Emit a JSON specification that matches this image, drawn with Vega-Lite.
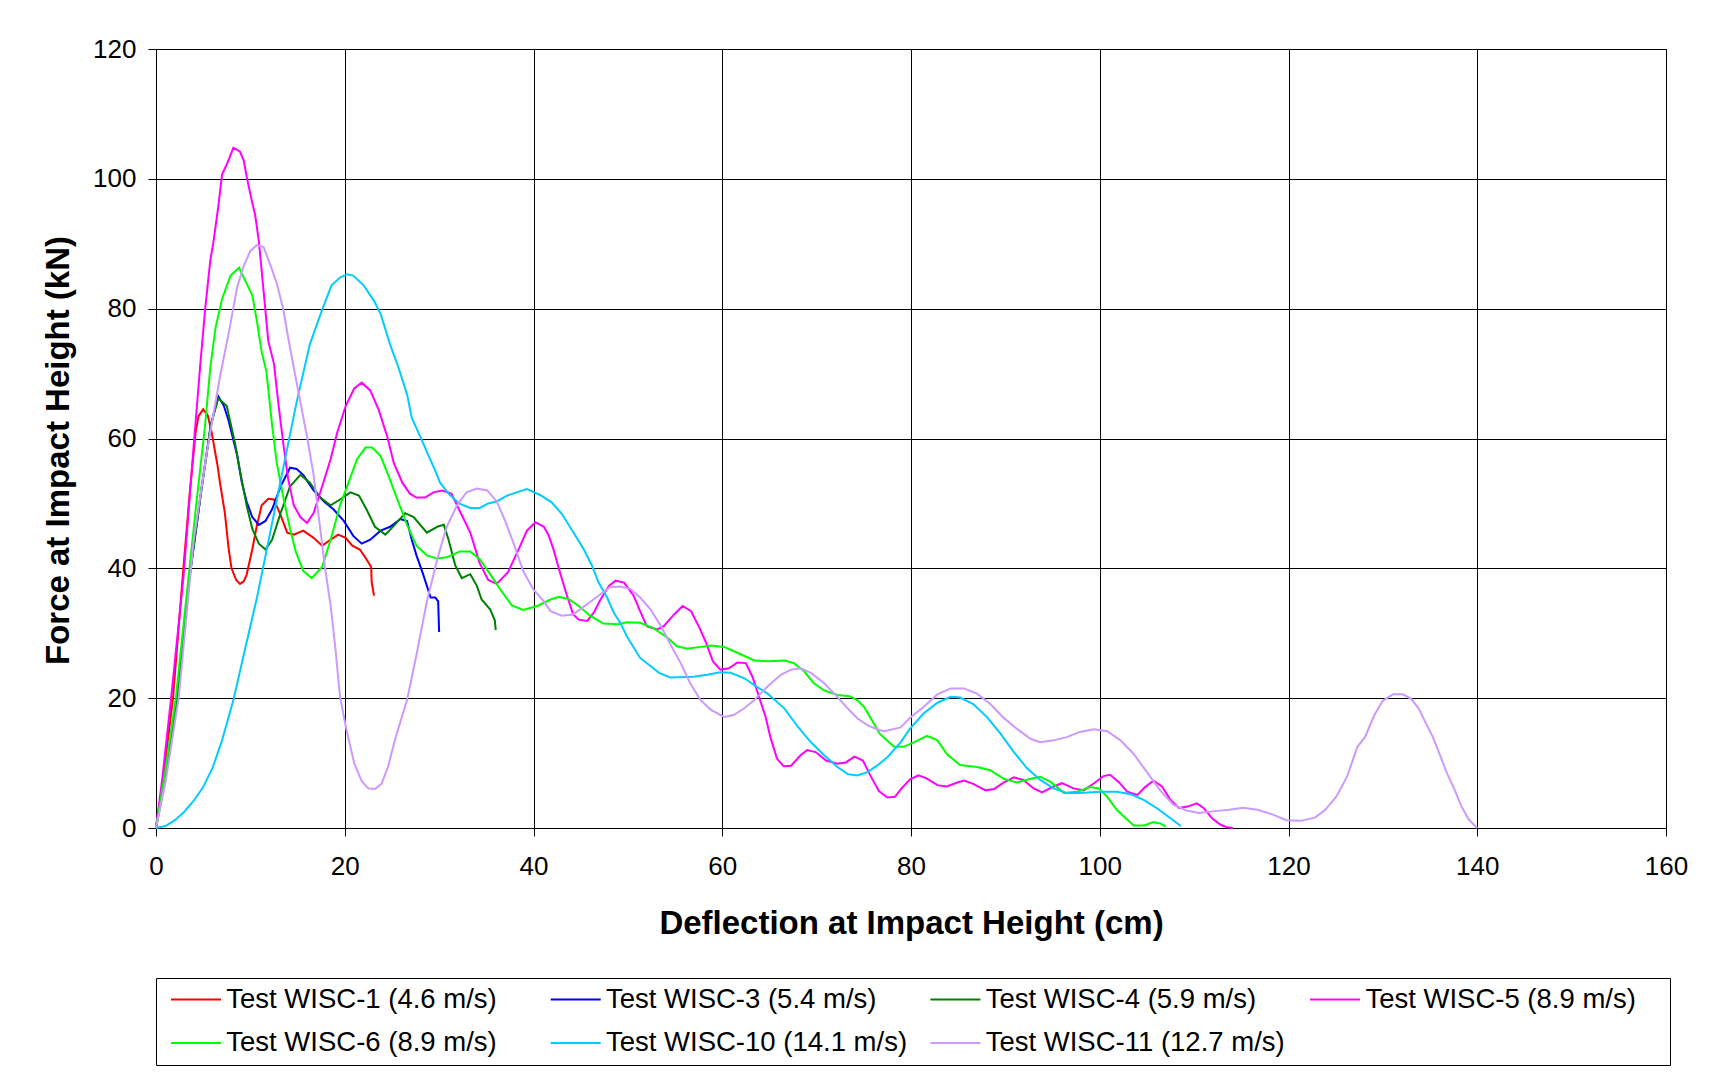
{
"$schema": "https://vega.github.io/schema/vega-lite/v6.json",
"width": 1510, "height": 779,
"autosize": {"type": "none"},
"padding": {"left": 156, "top": 49, "right": 43, "bottom": 245},
"background": "white",
"config": {"font": "Liberation Sans", "view": {"stroke": "#808080", "strokeWidth": 1}},
"datasets": {
"curves": [
{"s":"Test WISC-1 (4.6 m/s)","x":0,"y":0},{"s":"Test WISC-1 (4.6 m/s)","x":0.8,"y":8},{"s":"Test WISC-1 (4.6 m/s)","x":1.8,"y":20},{"s":"Test WISC-1 (4.6 m/s)","x":2.9,"y":40},{"s":"Test WISC-1 (4.6 m/s)","x":3.6,"y":52},{"s":"Test WISC-1 (4.6 m/s)","x":4.2,"y":61},{"s":"Test WISC-1 (4.6 m/s)","x":4.5,"y":63.4},{"s":"Test WISC-1 (4.6 m/s)","x":5.0,"y":64.5},{"s":"Test WISC-1 (4.6 m/s)","x":5.5,"y":63.5},{"s":"Test WISC-1 (4.6 m/s)","x":5.9,"y":60.9},{"s":"Test WISC-1 (4.6 m/s)","x":6.5,"y":56},{"s":"Test WISC-1 (4.6 m/s)","x":6.8,"y":53},{"s":"Test WISC-1 (4.6 m/s)","x":7.3,"y":48.5},{"s":"Test WISC-1 (4.6 m/s)","x":7.7,"y":43},{"s":"Test WISC-1 (4.6 m/s)","x":8.0,"y":40},{"s":"Test WISC-1 (4.6 m/s)","x":8.5,"y":38.2},{"s":"Test WISC-1 (4.6 m/s)","x":8.9,"y":37.6},{"s":"Test WISC-1 (4.6 m/s)","x":9.3,"y":38},{"s":"Test WISC-1 (4.6 m/s)","x":9.6,"y":39},{"s":"Test WISC-1 (4.6 m/s)","x":10.2,"y":42.9},{"s":"Test WISC-1 (4.6 m/s)","x":10.7,"y":46.7},{"s":"Test WISC-1 (4.6 m/s)","x":11.2,"y":49.7},{"s":"Test WISC-1 (4.6 m/s)","x":11.9,"y":50.7},{"s":"Test WISC-1 (4.6 m/s)","x":12.5,"y":50.6},{"s":"Test WISC-1 (4.6 m/s)","x":13.2,"y":48.2},{"s":"Test WISC-1 (4.6 m/s)","x":13.9,"y":45.5},{"s":"Test WISC-1 (4.6 m/s)","x":14.6,"y":45.2},{"s":"Test WISC-1 (4.6 m/s)","x":15.6,"y":45.8},{"s":"Test WISC-1 (4.6 m/s)","x":16.7,"y":44.7},{"s":"Test WISC-1 (4.6 m/s)","x":17.6,"y":43.5},{"s":"Test WISC-1 (4.6 m/s)","x":18.5,"y":44.4},{"s":"Test WISC-1 (4.6 m/s)","x":19.3,"y":45.2},{"s":"Test WISC-1 (4.6 m/s)","x":20.1,"y":44.7},{"s":"Test WISC-1 (4.6 m/s)","x":20.8,"y":43.5},{"s":"Test WISC-1 (4.6 m/s)","x":21.6,"y":42.9},{"s":"Test WISC-1 (4.6 m/s)","x":22.3,"y":41.4},{"s":"Test WISC-1 (4.6 m/s)","x":22.8,"y":40.2},{"s":"Test WISC-1 (4.6 m/s)","x":22.85,"y":37.9},{"s":"Test WISC-1 (4.6 m/s)","x":23.1,"y":35.8},

{"s":"Test WISC-3 (5.4 m/s)","x":0,"y":0},{"s":"Test WISC-3 (5.4 m/s)","x":1,"y":8},{"s":"Test WISC-3 (5.4 m/s)","x":2.3,"y":20},{"s":"Test WISC-3 (5.4 m/s)","x":3.5,"y":38},{"s":"Test WISC-3 (5.4 m/s)","x":4.8,"y":52},{"s":"Test WISC-3 (5.4 m/s)","x":5.8,"y":62},{"s":"Test WISC-3 (5.4 m/s)","x":6.6,"y":66.5},{"s":"Test WISC-3 (5.4 m/s)","x":7.2,"y":65},{"s":"Test WISC-3 (5.4 m/s)","x":7.7,"y":62.7},{"s":"Test WISC-3 (5.4 m/s)","x":8.6,"y":57.4},{"s":"Test WISC-3 (5.4 m/s)","x":9.1,"y":53.2},{"s":"Test WISC-3 (5.4 m/s)","x":9.6,"y":50.3},{"s":"Test WISC-3 (5.4 m/s)","x":10.2,"y":47.9},{"s":"Test WISC-3 (5.4 m/s)","x":10.9,"y":46.7},{"s":"Test WISC-3 (5.4 m/s)","x":11.6,"y":47.3},{"s":"Test WISC-3 (5.4 m/s)","x":12.3,"y":49.1},{"s":"Test WISC-3 (5.4 m/s)","x":13.2,"y":52.6},{"s":"Test WISC-3 (5.4 m/s)","x":14.2,"y":55.5},{"s":"Test WISC-3 (5.4 m/s)","x":14.9,"y":55.3},{"s":"Test WISC-3 (5.4 m/s)","x":15.6,"y":54.4},{"s":"Test WISC-3 (5.4 m/s)","x":16.7,"y":52.0},{"s":"Test WISC-3 (5.4 m/s)","x":17.8,"y":50.3},{"s":"Test WISC-3 (5.4 m/s)","x":18.8,"y":49.1},{"s":"Test WISC-3 (5.4 m/s)","x":19.9,"y":47.3},{"s":"Test WISC-3 (5.4 m/s)","x":20.9,"y":45.0},{"s":"Test WISC-3 (5.4 m/s)","x":21.8,"y":43.8},{"s":"Test WISC-3 (5.4 m/s)","x":22.7,"y":44.4},{"s":"Test WISC-3 (5.4 m/s)","x":23.8,"y":45.8},{"s":"Test WISC-3 (5.4 m/s)","x":24.8,"y":46.4},{"s":"Test WISC-3 (5.4 m/s)","x":25.9,"y":47.6},{"s":"Test WISC-3 (5.4 m/s)","x":26.6,"y":47.3},{"s":"Test WISC-3 (5.4 m/s)","x":27.1,"y":44.4},{"s":"Test WISC-3 (5.4 m/s)","x":27.6,"y":42.0},{"s":"Test WISC-3 (5.4 m/s)","x":28.3,"y":39.1},{"s":"Test WISC-3 (5.4 m/s)","x":29.1,"y":35.5},{"s":"Test WISC-3 (5.4 m/s)","x":29.6,"y":35.5},{"s":"Test WISC-3 (5.4 m/s)","x":29.9,"y":34.9},{"s":"Test WISC-3 (5.4 m/s)","x":30.0,"y":30.2},

{"s":"Test WISC-4 (5.9 m/s)","x":0,"y":0},{"s":"Test WISC-4 (5.9 m/s)","x":1,"y":8},{"s":"Test WISC-4 (5.9 m/s)","x":2.3,"y":20},{"s":"Test WISC-4 (5.9 m/s)","x":3.5,"y":38},{"s":"Test WISC-4 (5.9 m/s)","x":4.8,"y":52},{"s":"Test WISC-4 (5.9 m/s)","x":5.8,"y":62},{"s":"Test WISC-4 (5.9 m/s)","x":6.6,"y":66.2},{"s":"Test WISC-4 (5.9 m/s)","x":7.5,"y":65},{"s":"Test WISC-4 (5.9 m/s)","x":8.4,"y":59.1},{"s":"Test WISC-4 (5.9 m/s)","x":8.9,"y":55},{"s":"Test WISC-4 (5.9 m/s)","x":9.6,"y":49.7},{"s":"Test WISC-4 (5.9 m/s)","x":10.2,"y":46.1},{"s":"Test WISC-4 (5.9 m/s)","x":10.9,"y":43.8},{"s":"Test WISC-4 (5.9 m/s)","x":11.6,"y":42.9},{"s":"Test WISC-4 (5.9 m/s)","x":12.3,"y":44.4},{"s":"Test WISC-4 (5.9 m/s)","x":13.2,"y":48.5},{"s":"Test WISC-4 (5.9 m/s)","x":14.2,"y":52.6},{"s":"Test WISC-4 (5.9 m/s)","x":15.3,"y":54.4},{"s":"Test WISC-4 (5.9 m/s)","x":16.3,"y":53.2},{"s":"Test WISC-4 (5.9 m/s)","x":17.4,"y":50.9},{"s":"Test WISC-4 (5.9 m/s)","x":18.5,"y":49.7},{"s":"Test WISC-4 (5.9 m/s)","x":19.5,"y":50.6},{"s":"Test WISC-4 (5.9 m/s)","x":20.6,"y":51.7},{"s":"Test WISC-4 (5.9 m/s)","x":21.5,"y":51.2},{"s":"Test WISC-4 (5.9 m/s)","x":22.3,"y":49.1},{"s":"Test WISC-4 (5.9 m/s)","x":23.2,"y":46.4},{"s":"Test WISC-4 (5.9 m/s)","x":24.3,"y":45.2},{"s":"Test WISC-4 (5.9 m/s)","x":25.3,"y":46.7},{"s":"Test WISC-4 (5.9 m/s)","x":26.4,"y":48.5},{"s":"Test WISC-4 (5.9 m/s)","x":27.3,"y":47.9},{"s":"Test WISC-4 (5.9 m/s)","x":28.7,"y":45.5},{"s":"Test WISC-4 (5.9 m/s)","x":29.8,"y":46.4},{"s":"Test WISC-4 (5.9 m/s)","x":30.5,"y":46.7},{"s":"Test WISC-4 (5.9 m/s)","x":31.0,"y":44.4},{"s":"Test WISC-4 (5.9 m/s)","x":31.7,"y":40.5},{"s":"Test WISC-4 (5.9 m/s)","x":32.4,"y":38.5},{"s":"Test WISC-4 (5.9 m/s)","x":33.3,"y":39.1},{"s":"Test WISC-4 (5.9 m/s)","x":34.0,"y":37.3},{"s":"Test WISC-4 (5.9 m/s)","x":34.5,"y":35.2},{"s":"Test WISC-4 (5.9 m/s)","x":35.4,"y":33.7},{"s":"Test WISC-4 (5.9 m/s)","x":35.9,"y":32.0},{"s":"Test WISC-4 (5.9 m/s)","x":36.0,"y":30.5},

{"s":"Test WISC-5 (8.9 m/s)","x":0,"y":0},{"s":"Test WISC-5 (8.9 m/s)","x":0.7,"y":8},{"s":"Test WISC-5 (8.9 m/s)","x":1.6,"y":20},{"s":"Test WISC-5 (8.9 m/s)","x":2.9,"y":38.5},{"s":"Test WISC-5 (8.9 m/s)","x":4.0,"y":59},{"s":"Test WISC-5 (8.9 m/s)","x":4.7,"y":71.5},{"s":"Test WISC-5 (8.9 m/s)","x":5.2,"y":79.8},{"s":"Test WISC-5 (8.9 m/s)","x":5.75,"y":87.4},{"s":"Test WISC-5 (8.9 m/s)","x":6.1,"y":90.4},{"s":"Test WISC-5 (8.9 m/s)","x":6.6,"y":95.7},{"s":"Test WISC-5 (8.9 m/s)","x":7.0,"y":100.7},{"s":"Test WISC-5 (8.9 m/s)","x":7.5,"y":102.2},{"s":"Test WISC-5 (8.9 m/s)","x":8.2,"y":104.8},{"s":"Test WISC-5 (8.9 m/s)","x":8.9,"y":104.2},{"s":"Test WISC-5 (8.9 m/s)","x":9.3,"y":102.8},{"s":"Test WISC-5 (8.9 m/s)","x":9.6,"y":100.4},{"s":"Test WISC-5 (8.9 m/s)","x":10.2,"y":96.3},{"s":"Test WISC-5 (8.9 m/s)","x":10.5,"y":94.5},{"s":"Test WISC-5 (8.9 m/s)","x":10.9,"y":90.4},{"s":"Test WISC-5 (8.9 m/s)","x":11.4,"y":82.7},{"s":"Test WISC-5 (8.9 m/s)","x":11.9,"y":75},{"s":"Test WISC-5 (8.9 m/s)","x":12.5,"y":71.5},{"s":"Test WISC-5 (8.9 m/s)","x":13.0,"y":65},{"s":"Test WISC-5 (8.9 m/s)","x":13.5,"y":59.1},{"s":"Test WISC-5 (8.9 m/s)","x":14.0,"y":53.8},{"s":"Test WISC-5 (8.9 m/s)","x":14.6,"y":49.7},{"s":"Test WISC-5 (8.9 m/s)","x":15.3,"y":47.9},{"s":"Test WISC-5 (8.9 m/s)","x":16.0,"y":47.0},{"s":"Test WISC-5 (8.9 m/s)","x":16.7,"y":48.5},{"s":"Test WISC-5 (8.9 m/s)","x":17.6,"y":52.6},{"s":"Test WISC-5 (8.9 m/s)","x":18.5,"y":56.8},{"s":"Test WISC-5 (8.9 m/s)","x":19.2,"y":60.9},{"s":"Test WISC-5 (8.9 m/s)","x":20.1,"y":65},{"s":"Test WISC-5 (8.9 m/s)","x":21.0,"y":67.7},{"s":"Test WISC-5 (8.9 m/s)","x":21.8,"y":68.6},{"s":"Test WISC-5 (8.9 m/s)","x":22.7,"y":67.4},{"s":"Test WISC-5 (8.9 m/s)","x":23.6,"y":64.4},{"s":"Test WISC-5 (8.9 m/s)","x":24.5,"y":60.3},{"s":"Test WISC-5 (8.9 m/s)","x":25.2,"y":56.2},{"s":"Test WISC-5 (8.9 m/s)","x":26.1,"y":53.2},{"s":"Test WISC-5 (8.9 m/s)","x":26.9,"y":51.5},{"s":"Test WISC-5 (8.9 m/s)","x":27.6,"y":50.9},{"s":"Test WISC-5 (8.9 m/s)","x":28.5,"y":50.9},{"s":"Test WISC-5 (8.9 m/s)","x":29.4,"y":51.7},{"s":"Test WISC-5 (8.9 m/s)","x":30.3,"y":52.0},{"s":"Test WISC-5 (8.9 m/s)","x":31.3,"y":51.5},{"s":"Test WISC-5 (8.9 m/s)","x":32.2,"y":48.8},{"s":"Test WISC-5 (8.9 m/s)","x":33.3,"y":45.5},{"s":"Test WISC-5 (8.9 m/s)","x":34.3,"y":40.8},{"s":"Test WISC-5 (8.9 m/s)","x":35.2,"y":38.2},{"s":"Test WISC-5 (8.9 m/s)","x":36.1,"y":37.6},{"s":"Test WISC-5 (8.9 m/s)","x":37.3,"y":39.4},{"s":"Test WISC-5 (8.9 m/s)","x":38.6,"y":43.5},{"s":"Test WISC-5 (8.9 m/s)","x":39.3,"y":45.8},{"s":"Test WISC-5 (8.9 m/s)","x":40.2,"y":47.1},{"s":"Test WISC-5 (8.9 m/s)","x":41.1,"y":46.4},{"s":"Test WISC-5 (8.9 m/s)","x":41.6,"y":45.1},{"s":"Test WISC-5 (8.9 m/s)","x":42.1,"y":43.0},{"s":"Test WISC-5 (8.9 m/s)","x":42.8,"y":39.4},{"s":"Test WISC-5 (8.9 m/s)","x":43.5,"y":36.0},{"s":"Test WISC-5 (8.9 m/s)","x":44.2,"y":32.9},{"s":"Test WISC-5 (8.9 m/s)","x":44.8,"y":32.1},{"s":"Test WISC-5 (8.9 m/s)","x":45.7,"y":31.9},{"s":"Test WISC-5 (8.9 m/s)","x":46.4,"y":33.2},{"s":"Test WISC-5 (8.9 m/s)","x":47.1,"y":35.2},{"s":"Test WISC-5 (8.9 m/s)","x":48.0,"y":37.3},{"s":"Test WISC-5 (8.9 m/s)","x":48.7,"y":38.1},{"s":"Test WISC-5 (8.9 m/s)","x":49.6,"y":37.8},{"s":"Test WISC-5 (8.9 m/s)","x":50.6,"y":35.8},{"s":"Test WISC-5 (8.9 m/s)","x":51.3,"y":33.4},{"s":"Test WISC-5 (8.9 m/s)","x":52.0,"y":31.1},{"s":"Test WISC-5 (8.9 m/s)","x":53.1,"y":30.6},{"s":"Test WISC-5 (8.9 m/s)","x":53.8,"y":31.1},{"s":"Test WISC-5 (8.9 m/s)","x":54.9,"y":32.9},{"s":"Test WISC-5 (8.9 m/s)","x":55.8,"y":34.2},{"s":"Test WISC-5 (8.9 m/s)","x":56.7,"y":33.4},{"s":"Test WISC-5 (8.9 m/s)","x":57.6,"y":30.8},{"s":"Test WISC-5 (8.9 m/s)","x":58.3,"y":28.5},{"s":"Test WISC-5 (8.9 m/s)","x":59.0,"y":25.7},{"s":"Test WISC-5 (8.9 m/s)","x":59.8,"y":24.4},{"s":"Test WISC-5 (8.9 m/s)","x":60.7,"y":24.6},{"s":"Test WISC-5 (8.9 m/s)","x":61.6,"y":25.5},{"s":"Test WISC-5 (8.9 m/s)","x":62.5,"y":25.4},{"s":"Test WISC-5 (8.9 m/s)","x":63.2,"y":23.3},{"s":"Test WISC-5 (8.9 m/s)","x":63.9,"y":20.2},{"s":"Test WISC-5 (8.9 m/s)","x":64.6,"y":17.1},{"s":"Test WISC-5 (8.9 m/s)","x":65.1,"y":14.0},{"s":"Test WISC-5 (8.9 m/s)","x":65.8,"y":10.7},{"s":"Test WISC-5 (8.9 m/s)","x":66.5,"y":9.5},{"s":"Test WISC-5 (8.9 m/s)","x":67.3,"y":9.6},{"s":"Test WISC-5 (8.9 m/s)","x":68.3,"y":11.2},{"s":"Test WISC-5 (8.9 m/s)","x":69.0,"y":12.0},{"s":"Test WISC-5 (8.9 m/s)","x":69.9,"y":11.7},{"s":"Test WISC-5 (8.9 m/s)","x":71.0,"y":10.4},{"s":"Test WISC-5 (8.9 m/s)","x":72.2,"y":9.9},{"s":"Test WISC-5 (8.9 m/s)","x":73.1,"y":10.1},{"s":"Test WISC-5 (8.9 m/s)","x":74.0,"y":11.0},{"s":"Test WISC-5 (8.9 m/s)","x":74.9,"y":10.4},{"s":"Test WISC-5 (8.9 m/s)","x":75.8,"y":7.8},{"s":"Test WISC-5 (8.9 m/s)","x":76.6,"y":5.7},{"s":"Test WISC-5 (8.9 m/s)","x":77.5,"y":4.7},{"s":"Test WISC-5 (8.9 m/s)","x":78.3,"y":4.8},{"s":"Test WISC-5 (8.9 m/s)","x":79.0,"y":6.1},{"s":"Test WISC-5 (8.9 m/s)","x":79.9,"y":7.5},{"s":"Test WISC-5 (8.9 m/s)","x":80.8,"y":8.1},{"s":"Test WISC-5 (8.9 m/s)","x":81.7,"y":7.6},{"s":"Test WISC-5 (8.9 m/s)","x":82.8,"y":6.6},{"s":"Test WISC-5 (8.9 m/s)","x":83.8,"y":6.4},{"s":"Test WISC-5 (8.9 m/s)","x":84.9,"y":7.0},{"s":"Test WISC-5 (8.9 m/s)","x":85.6,"y":7.3},{"s":"Test WISC-5 (8.9 m/s)","x":86.6,"y":6.8},{"s":"Test WISC-5 (8.9 m/s)","x":87.9,"y":5.8},{"s":"Test WISC-5 (8.9 m/s)","x":88.8,"y":6.0},{"s":"Test WISC-5 (8.9 m/s)","x":89.8,"y":7.0},{"s":"Test WISC-5 (8.9 m/s)","x":90.9,"y":7.8},{"s":"Test WISC-5 (8.9 m/s)","x":91.9,"y":7.4},{"s":"Test WISC-5 (8.9 m/s)","x":93.0,"y":6.1},{"s":"Test WISC-5 (8.9 m/s)","x":93.9,"y":5.5},{"s":"Test WISC-5 (8.9 m/s)","x":95.1,"y":6.4},{"s":"Test WISC-5 (8.9 m/s)","x":96.0,"y":6.9},{"s":"Test WISC-5 (8.9 m/s)","x":97.2,"y":6.1},{"s":"Test WISC-5 (8.9 m/s)","x":98.3,"y":5.8},{"s":"Test WISC-5 (8.9 m/s)","x":99.4,"y":6.9},{"s":"Test WISC-5 (8.9 m/s)","x":100.4,"y":8.0},{"s":"Test WISC-5 (8.9 m/s)","x":101.1,"y":8.2},{"s":"Test WISC-5 (8.9 m/s)","x":102.0,"y":7.1},{"s":"Test WISC-5 (8.9 m/s)","x":102.9,"y":5.6},{"s":"Test WISC-5 (8.9 m/s)","x":104.0,"y":5.1},{"s":"Test WISC-5 (8.9 m/s)","x":104.8,"y":6.3},{"s":"Test WISC-5 (8.9 m/s)","x":105.7,"y":7.3},{"s":"Test WISC-5 (8.9 m/s)","x":106.6,"y":6.4},{"s":"Test WISC-5 (8.9 m/s)","x":107.5,"y":4.3},{"s":"Test WISC-5 (8.9 m/s)","x":108.4,"y":3.1},{"s":"Test WISC-5 (8.9 m/s)","x":109.3,"y":3.3},{"s":"Test WISC-5 (8.9 m/s)","x":110.3,"y":3.8},{"s":"Test WISC-5 (8.9 m/s)","x":111.0,"y":3.1},{"s":"Test WISC-5 (8.9 m/s)","x":111.9,"y":1.5},{"s":"Test WISC-5 (8.9 m/s)","x":112.8,"y":0.5},{"s":"Test WISC-5 (8.9 m/s)","x":113.5,"y":0.1},{"s":"Test WISC-5 (8.9 m/s)","x":114.1,"y":0},

{"s":"Test WISC-6 (8.9 m/s)","x":0,"y":0},{"s":"Test WISC-6 (8.9 m/s)","x":0.9,"y":8},{"s":"Test WISC-6 (8.9 m/s)","x":2.1,"y":20},{"s":"Test WISC-6 (8.9 m/s)","x":3.4,"y":38},{"s":"Test WISC-6 (8.9 m/s)","x":4.3,"y":50.3},{"s":"Test WISC-6 (8.9 m/s)","x":5.2,"y":62},{"s":"Test WISC-6 (8.9 m/s)","x":5.75,"y":70.9},{"s":"Test WISC-6 (8.9 m/s)","x":6.3,"y":77},{"s":"Test WISC-6 (8.9 m/s)","x":7.0,"y":81.5},{"s":"Test WISC-6 (8.9 m/s)","x":7.9,"y":85.1},{"s":"Test WISC-6 (8.9 m/s)","x":8.8,"y":86.3},{"s":"Test WISC-6 (8.9 m/s)","x":9.6,"y":83.9},{"s":"Test WISC-6 (8.9 m/s)","x":10.2,"y":82.1},{"s":"Test WISC-6 (8.9 m/s)","x":10.7,"y":78},{"s":"Test WISC-6 (8.9 m/s)","x":11.2,"y":73.3},{"s":"Test WISC-6 (8.9 m/s)","x":11.7,"y":70.3},{"s":"Test WISC-6 (8.9 m/s)","x":12.3,"y":62.1},{"s":"Test WISC-6 (8.9 m/s)","x":12.8,"y":56.2},{"s":"Test WISC-6 (8.9 m/s)","x":13.5,"y":50.9},{"s":"Test WISC-6 (8.9 m/s)","x":14.2,"y":46.1},{"s":"Test WISC-6 (8.9 m/s)","x":14.8,"y":42.6},{"s":"Test WISC-6 (8.9 m/s)","x":15.6,"y":39.6},{"s":"Test WISC-6 (8.9 m/s)","x":16.5,"y":38.5},{"s":"Test WISC-6 (8.9 m/s)","x":17.6,"y":40.2},{"s":"Test WISC-6 (8.9 m/s)","x":18.5,"y":44.4},{"s":"Test WISC-6 (8.9 m/s)","x":19.5,"y":49.7},{"s":"Test WISC-6 (8.9 m/s)","x":20.4,"y":53.2},{"s":"Test WISC-6 (8.9 m/s)","x":21.3,"y":56.8},{"s":"Test WISC-6 (8.9 m/s)","x":22.2,"y":58.6},{"s":"Test WISC-6 (8.9 m/s)","x":22.9,"y":58.6},{"s":"Test WISC-6 (8.9 m/s)","x":23.8,"y":57.3},{"s":"Test WISC-6 (8.9 m/s)","x":24.6,"y":54.4},{"s":"Test WISC-6 (8.9 m/s)","x":25.5,"y":50.9},{"s":"Test WISC-6 (8.9 m/s)","x":26.6,"y":46.7},{"s":"Test WISC-6 (8.9 m/s)","x":27.6,"y":43.5},{"s":"Test WISC-6 (8.9 m/s)","x":28.7,"y":42.0},{"s":"Test WISC-6 (8.9 m/s)","x":29.8,"y":41.5},{"s":"Test WISC-6 (8.9 m/s)","x":30.8,"y":41.7},{"s":"Test WISC-6 (8.9 m/s)","x":32.2,"y":42.6},{"s":"Test WISC-6 (8.9 m/s)","x":33.3,"y":42.6},{"s":"Test WISC-6 (8.9 m/s)","x":34.3,"y":41.4},{"s":"Test WISC-6 (8.9 m/s)","x":35.4,"y":39.1},{"s":"Test WISC-6 (8.9 m/s)","x":36.5,"y":36.7},{"s":"Test WISC-6 (8.9 m/s)","x":37.7,"y":34.3},{"s":"Test WISC-6 (8.9 m/s)","x":38.9,"y":33.6},{"s":"Test WISC-6 (8.9 m/s)","x":40.4,"y":34.2},{"s":"Test WISC-6 (8.9 m/s)","x":41.8,"y":35.2},{"s":"Test WISC-6 (8.9 m/s)","x":42.7,"y":35.6},{"s":"Test WISC-6 (8.9 m/s)","x":43.7,"y":35.3},{"s":"Test WISC-6 (8.9 m/s)","x":44.8,"y":34.2},{"s":"Test WISC-6 (8.9 m/s)","x":46.0,"y":32.7},{"s":"Test WISC-6 (8.9 m/s)","x":47.4,"y":31.5},{"s":"Test WISC-6 (8.9 m/s)","x":49.0,"y":31.4},{"s":"Test WISC-6 (8.9 m/s)","x":49.9,"y":31.7},{"s":"Test WISC-6 (8.9 m/s)","x":51.3,"y":31.6},{"s":"Test WISC-6 (8.9 m/s)","x":52.7,"y":30.8},{"s":"Test WISC-6 (8.9 m/s)","x":54.2,"y":29.3},{"s":"Test WISC-6 (8.9 m/s)","x":55.2,"y":28.0},{"s":"Test WISC-6 (8.9 m/s)","x":56.3,"y":27.6},{"s":"Test WISC-6 (8.9 m/s)","x":57.7,"y":27.9},{"s":"Test WISC-6 (8.9 m/s)","x":58.8,"y":28.1},{"s":"Test WISC-6 (8.9 m/s)","x":60.2,"y":27.9},{"s":"Test WISC-6 (8.9 m/s)","x":61.6,"y":27.0},{"s":"Test WISC-6 (8.9 m/s)","x":63.4,"y":25.8},{"s":"Test WISC-6 (8.9 m/s)","x":64.8,"y":25.7},{"s":"Test WISC-6 (8.9 m/s)","x":66.6,"y":25.8},{"s":"Test WISC-6 (8.9 m/s)","x":67.6,"y":25.4},{"s":"Test WISC-6 (8.9 m/s)","x":68.7,"y":24.1},{"s":"Test WISC-6 (8.9 m/s)","x":69.7,"y":22.3},{"s":"Test WISC-6 (8.9 m/s)","x":70.8,"y":21.2},{"s":"Test WISC-6 (8.9 m/s)","x":72.2,"y":20.5},{"s":"Test WISC-6 (8.9 m/s)","x":73.5,"y":20.3},{"s":"Test WISC-6 (8.9 m/s)","x":74.3,"y":19.7},{"s":"Test WISC-6 (8.9 m/s)","x":75.0,"y":18.7},{"s":"Test WISC-6 (8.9 m/s)","x":75.7,"y":17.0},{"s":"Test WISC-6 (8.9 m/s)","x":76.7,"y":14.5},{"s":"Test WISC-6 (8.9 m/s)","x":78.2,"y":12.5},{"s":"Test WISC-6 (8.9 m/s)","x":79.2,"y":12.5},{"s":"Test WISC-6 (8.9 m/s)","x":80.3,"y":13.2},{"s":"Test WISC-6 (8.9 m/s)","x":81.7,"y":14.2},{"s":"Test WISC-6 (8.9 m/s)","x":82.8,"y":13.5},{"s":"Test WISC-6 (8.9 m/s)","x":83.8,"y":11.4},{"s":"Test WISC-6 (8.9 m/s)","x":85.2,"y":9.7},{"s":"Test WISC-6 (8.9 m/s)","x":87.0,"y":9.4},{"s":"Test WISC-6 (8.9 m/s)","x":88.4,"y":8.9},{"s":"Test WISC-6 (8.9 m/s)","x":89.8,"y":7.6},{"s":"Test WISC-6 (8.9 m/s)","x":91.2,"y":7.0},{"s":"Test WISC-6 (8.9 m/s)","x":92.7,"y":7.6},{"s":"Test WISC-6 (8.9 m/s)","x":93.7,"y":7.9},{"s":"Test WISC-6 (8.9 m/s)","x":94.8,"y":7.1},{"s":"Test WISC-6 (8.9 m/s)","x":96.2,"y":5.4},{"s":"Test WISC-6 (8.9 m/s)","x":97.6,"y":5.6},{"s":"Test WISC-6 (8.9 m/s)","x":99.0,"y":6.3},{"s":"Test WISC-6 (8.9 m/s)","x":99.9,"y":6.1},{"s":"Test WISC-6 (8.9 m/s)","x":100.8,"y":4.8},{"s":"Test WISC-6 (8.9 m/s)","x":101.8,"y":2.8},{"s":"Test WISC-6 (8.9 m/s)","x":102.9,"y":1.3},{"s":"Test WISC-6 (8.9 m/s)","x":103.6,"y":0.4},{"s":"Test WISC-6 (8.9 m/s)","x":104.7,"y":0.4},{"s":"Test WISC-6 (8.9 m/s)","x":105.7,"y":0.9},{"s":"Test WISC-6 (8.9 m/s)","x":106.4,"y":0.7},{"s":"Test WISC-6 (8.9 m/s)","x":107.0,"y":0.2},

{"s":"Test WISC-10 (14.1 m/s)","x":0,"y":0},{"s":"Test WISC-10 (14.1 m/s)","x":1,"y":0.3},{"s":"Test WISC-10 (14.1 m/s)","x":2,"y":1.2},{"s":"Test WISC-10 (14.1 m/s)","x":3,"y":2.5},{"s":"Test WISC-10 (14.1 m/s)","x":4,"y":4.2},{"s":"Test WISC-10 (14.1 m/s)","x":5,"y":6.3},{"s":"Test WISC-10 (14.1 m/s)","x":6,"y":9.3},{"s":"Test WISC-10 (14.1 m/s)","x":7,"y":13.5},{"s":"Test WISC-10 (14.1 m/s)","x":8.2,"y":19.7},{"s":"Test WISC-10 (14.1 m/s)","x":9.3,"y":26.7},{"s":"Test WISC-10 (14.1 m/s)","x":10.7,"y":35.5},{"s":"Test WISC-10 (14.1 m/s)","x":12.1,"y":45.5},{"s":"Test WISC-10 (14.1 m/s)","x":13.5,"y":55.6},{"s":"Test WISC-10 (14.1 m/s)","x":14.9,"y":65.6},{"s":"Test WISC-10 (14.1 m/s)","x":16.3,"y":74.5},{"s":"Test WISC-10 (14.1 m/s)","x":17.6,"y":79.8},{"s":"Test WISC-10 (14.1 m/s)","x":18.6,"y":83.6},{"s":"Test WISC-10 (14.1 m/s)","x":19.5,"y":84.8},{"s":"Test WISC-10 (14.1 m/s)","x":20.2,"y":85.3},{"s":"Test WISC-10 (14.1 m/s)","x":20.9,"y":85.1},{"s":"Test WISC-10 (14.1 m/s)","x":22.0,"y":83.6},{"s":"Test WISC-10 (14.1 m/s)","x":23.1,"y":81.2},{"s":"Test WISC-10 (14.1 m/s)","x":23.8,"y":79.2},{"s":"Test WISC-10 (14.1 m/s)","x":24.8,"y":74.5},{"s":"Test WISC-10 (14.1 m/s)","x":25.7,"y":70.9},{"s":"Test WISC-10 (14.1 m/s)","x":26.6,"y":66.8},{"s":"Test WISC-10 (14.1 m/s)","x":27.1,"y":63.2},{"s":"Test WISC-10 (14.1 m/s)","x":28.0,"y":60.3},{"s":"Test WISC-10 (14.1 m/s)","x":28.9,"y":57.3},{"s":"Test WISC-10 (14.1 m/s)","x":29.6,"y":55.0},{"s":"Test WISC-10 (14.1 m/s)","x":30.1,"y":53.2},{"s":"Test WISC-10 (14.1 m/s)","x":31.0,"y":51.5},{"s":"Test WISC-10 (14.1 m/s)","x":32.1,"y":50.0},{"s":"Test WISC-10 (14.1 m/s)","x":33.3,"y":49.3},{"s":"Test WISC-10 (14.1 m/s)","x":34.3,"y":49.3},{"s":"Test WISC-10 (14.1 m/s)","x":35.2,"y":50.0},{"s":"Test WISC-10 (14.1 m/s)","x":36.1,"y":50.3},{"s":"Test WISC-10 (14.1 m/s)","x":37.2,"y":51.2},{"s":"Test WISC-10 (14.1 m/s)","x":38.2,"y":51.7},{"s":"Test WISC-10 (14.1 m/s)","x":39.3,"y":52.2},{"s":"Test WISC-10 (14.1 m/s)","x":40.7,"y":51.3},{"s":"Test WISC-10 (14.1 m/s)","x":41.9,"y":50.2},{"s":"Test WISC-10 (14.1 m/s)","x":43.0,"y":48.4},{"s":"Test WISC-10 (14.1 m/s)","x":44.2,"y":45.6},{"s":"Test WISC-10 (14.1 m/s)","x":45.3,"y":43.0},{"s":"Test WISC-10 (14.1 m/s)","x":46.2,"y":40.4},{"s":"Test WISC-10 (14.1 m/s)","x":46.9,"y":37.8},{"s":"Test WISC-10 (14.1 m/s)","x":47.8,"y":35.5},{"s":"Test WISC-10 (14.1 m/s)","x":48.5,"y":33.2},{"s":"Test WISC-10 (14.1 m/s)","x":49.2,"y":31.6},{"s":"Test WISC-10 (14.1 m/s)","x":49.9,"y":29.5},{"s":"Test WISC-10 (14.1 m/s)","x":51.3,"y":26.2},{"s":"Test WISC-10 (14.1 m/s)","x":52.7,"y":24.6},{"s":"Test WISC-10 (14.1 m/s)","x":53.3,"y":23.9},{"s":"Test WISC-10 (14.1 m/s)","x":54.5,"y":23.2},{"s":"Test WISC-10 (14.1 m/s)","x":57.0,"y":23.3},{"s":"Test WISC-10 (14.1 m/s)","x":58.4,"y":23.6},{"s":"Test WISC-10 (14.1 m/s)","x":59.8,"y":24.0},{"s":"Test WISC-10 (14.1 m/s)","x":60.9,"y":23.9},{"s":"Test WISC-10 (14.1 m/s)","x":62.3,"y":23.1},{"s":"Test WISC-10 (14.1 m/s)","x":63.4,"y":22.0},{"s":"Test WISC-10 (14.1 m/s)","x":64.8,"y":20.7},{"s":"Test WISC-10 (14.1 m/s)","x":66.6,"y":18.4},{"s":"Test WISC-10 (14.1 m/s)","x":68.0,"y":15.6},{"s":"Test WISC-10 (14.1 m/s)","x":69.4,"y":13.2},{"s":"Test WISC-10 (14.1 m/s)","x":70.8,"y":11.2},{"s":"Test WISC-10 (14.1 m/s)","x":72.2,"y":9.4},{"s":"Test WISC-10 (14.1 m/s)","x":73.3,"y":8.3},{"s":"Test WISC-10 (14.1 m/s)","x":74.3,"y":8.1},{"s":"Test WISC-10 (14.1 m/s)","x":75.4,"y":8.6},{"s":"Test WISC-10 (14.1 m/s)","x":76.4,"y":9.6},{"s":"Test WISC-10 (14.1 m/s)","x":77.5,"y":10.9},{"s":"Test WISC-10 (14.1 m/s)","x":78.9,"y":13.2},{"s":"Test WISC-10 (14.1 m/s)","x":79.9,"y":15.3},{"s":"Test WISC-10 (14.1 m/s)","x":81.3,"y":17.6},{"s":"Test WISC-10 (14.1 m/s)","x":82.8,"y":19.3},{"s":"Test WISC-10 (14.1 m/s)","x":84.2,"y":20.2},{"s":"Test WISC-10 (14.1 m/s)","x":85.2,"y":20.1},{"s":"Test WISC-10 (14.1 m/s)","x":86.6,"y":19.1},{"s":"Test WISC-10 (14.1 m/s)","x":88.1,"y":17.0},{"s":"Test WISC-10 (14.1 m/s)","x":89.5,"y":14.5},{"s":"Test WISC-10 (14.1 m/s)","x":90.9,"y":11.7},{"s":"Test WISC-10 (14.1 m/s)","x":92.3,"y":9.2},{"s":"Test WISC-10 (14.1 m/s)","x":93.7,"y":7.4},{"s":"Test WISC-10 (14.1 m/s)","x":95.1,"y":6.1},{"s":"Test WISC-10 (14.1 m/s)","x":96.5,"y":5.4},{"s":"Test WISC-10 (14.1 m/s)","x":97.9,"y":5.4},{"s":"Test WISC-10 (14.1 m/s)","x":100.1,"y":5.6},{"s":"Test WISC-10 (14.1 m/s)","x":101.8,"y":5.6},{"s":"Test WISC-10 (14.1 m/s)","x":103.3,"y":5.2},{"s":"Test WISC-10 (14.1 m/s)","x":104.7,"y":4.3},{"s":"Test WISC-10 (14.1 m/s)","x":106.1,"y":3.0},{"s":"Test WISC-10 (14.1 m/s)","x":107.5,"y":1.5},{"s":"Test WISC-10 (14.1 m/s)","x":108.6,"y":0.3},

{"s":"Test WISC-11 (12.7 m/s)","x":0,"y":0},{"s":"Test WISC-11 (12.7 m/s)","x":1,"y":7},{"s":"Test WISC-11 (12.7 m/s)","x":2.4,"y":20},{"s":"Test WISC-11 (12.7 m/s)","x":4.0,"y":44.4},{"s":"Test WISC-11 (12.7 m/s)","x":5.4,"y":58},{"s":"Test WISC-11 (12.7 m/s)","x":6.8,"y":69.7},{"s":"Test WISC-11 (12.7 m/s)","x":7.7,"y":76.2},{"s":"Test WISC-11 (12.7 m/s)","x":8.6,"y":83.3},{"s":"Test WISC-11 (12.7 m/s)","x":9.3,"y":86.6},{"s":"Test WISC-11 (12.7 m/s)","x":10.0,"y":88.9},{"s":"Test WISC-11 (12.7 m/s)","x":10.7,"y":89.8},{"s":"Test WISC-11 (12.7 m/s)","x":11.4,"y":89.5},{"s":"Test WISC-11 (12.7 m/s)","x":12.1,"y":86.8},{"s":"Test WISC-11 (12.7 m/s)","x":12.8,"y":83.9},{"s":"Test WISC-11 (12.7 m/s)","x":13.5,"y":79.8},{"s":"Test WISC-11 (12.7 m/s)","x":14.0,"y":75.6},{"s":"Test WISC-11 (12.7 m/s)","x":14.6,"y":70.9},{"s":"Test WISC-11 (12.7 m/s)","x":15.3,"y":65.6},{"s":"Test WISC-11 (12.7 m/s)","x":16.0,"y":60.3},{"s":"Test WISC-11 (12.7 m/s)","x":16.7,"y":54.4},{"s":"Test WISC-11 (12.7 m/s)","x":17.4,"y":46.1},{"s":"Test WISC-11 (12.7 m/s)","x":17.9,"y":40.2},{"s":"Test WISC-11 (12.7 m/s)","x":18.5,"y":34.3},{"s":"Test WISC-11 (12.7 m/s)","x":19.0,"y":27.8},{"s":"Test WISC-11 (12.7 m/s)","x":19.5,"y":20.2},{"s":"Test WISC-11 (12.7 m/s)","x":20.2,"y":15},{"s":"Test WISC-11 (12.7 m/s)","x":21.0,"y":10},{"s":"Test WISC-11 (12.7 m/s)","x":21.8,"y":7.2},{"s":"Test WISC-11 (12.7 m/s)","x":22.5,"y":6.1},{"s":"Test WISC-11 (12.7 m/s)","x":23.2,"y":6.0},{"s":"Test WISC-11 (12.7 m/s)","x":23.9,"y":6.8},{"s":"Test WISC-11 (12.7 m/s)","x":24.6,"y":9.5},{"s":"Test WISC-11 (12.7 m/s)","x":25.4,"y":14},{"s":"Test WISC-11 (12.7 m/s)","x":26.6,"y":19.7},{"s":"Test WISC-11 (12.7 m/s)","x":27.6,"y":26.7},{"s":"Test WISC-11 (12.7 m/s)","x":28.7,"y":34.9},{"s":"Test WISC-11 (12.7 m/s)","x":29.8,"y":41.4},{"s":"Test WISC-11 (12.7 m/s)","x":30.8,"y":46.4},{"s":"Test WISC-11 (12.7 m/s)","x":31.9,"y":49.7},{"s":"Test WISC-11 (12.7 m/s)","x":32.9,"y":51.7},{"s":"Test WISC-11 (12.7 m/s)","x":34.0,"y":52.3},{"s":"Test WISC-11 (12.7 m/s)","x":35.1,"y":52.0},{"s":"Test WISC-11 (12.7 m/s)","x":36.1,"y":50.3},{"s":"Test WISC-11 (12.7 m/s)","x":37.0,"y":47.3},{"s":"Test WISC-11 (12.7 m/s)","x":37.9,"y":43.8},{"s":"Test WISC-11 (12.7 m/s)","x":38.9,"y":39.6},{"s":"Test WISC-11 (12.7 m/s)","x":40.0,"y":36.7},{"s":"Test WISC-11 (12.7 m/s)","x":41.1,"y":34.9},{"s":"Test WISC-11 (12.7 m/s)","x":41.8,"y":33.4},{"s":"Test WISC-11 (12.7 m/s)","x":43.0,"y":32.7},{"s":"Test WISC-11 (12.7 m/s)","x":44.2,"y":32.9},{"s":"Test WISC-11 (12.7 m/s)","x":45.7,"y":34.5},{"s":"Test WISC-11 (12.7 m/s)","x":47.1,"y":36.0},{"s":"Test WISC-11 (12.7 m/s)","x":48.1,"y":37.1},{"s":"Test WISC-11 (12.7 m/s)","x":49.2,"y":37.2},{"s":"Test WISC-11 (12.7 m/s)","x":50.3,"y":36.8},{"s":"Test WISC-11 (12.7 m/s)","x":51.3,"y":35.5},{"s":"Test WISC-11 (12.7 m/s)","x":52.4,"y":33.7},{"s":"Test WISC-11 (12.7 m/s)","x":53.5,"y":31.1},{"s":"Test WISC-11 (12.7 m/s)","x":54.5,"y":28.3},{"s":"Test WISC-11 (12.7 m/s)","x":55.6,"y":25.4},{"s":"Test WISC-11 (12.7 m/s)","x":56.6,"y":22.3},{"s":"Test WISC-11 (12.7 m/s)","x":57.7,"y":19.7},{"s":"Test WISC-11 (12.7 m/s)","x":58.8,"y":18.2},{"s":"Test WISC-11 (12.7 m/s)","x":60.2,"y":17.1},{"s":"Test WISC-11 (12.7 m/s)","x":61.2,"y":17.4},{"s":"Test WISC-11 (12.7 m/s)","x":62.3,"y":18.4},{"s":"Test WISC-11 (12.7 m/s)","x":63.4,"y":19.7},{"s":"Test WISC-11 (12.7 m/s)","x":64.8,"y":21.8},{"s":"Test WISC-11 (12.7 m/s)","x":66.2,"y":23.6},{"s":"Test WISC-11 (12.7 m/s)","x":67.3,"y":24.4},{"s":"Test WISC-11 (12.7 m/s)","x":68.3,"y":24.6},{"s":"Test WISC-11 (12.7 m/s)","x":69.4,"y":23.9},{"s":"Test WISC-11 (12.7 m/s)","x":70.8,"y":22.3},{"s":"Test WISC-11 (12.7 m/s)","x":72.2,"y":20.2},{"s":"Test WISC-11 (12.7 m/s)","x":73.3,"y":18.4},{"s":"Test WISC-11 (12.7 m/s)","x":74.3,"y":16.9},{"s":"Test WISC-11 (12.7 m/s)","x":75.4,"y":15.8},{"s":"Test WISC-11 (12.7 m/s)","x":76.6,"y":15.1},{"s":"Test WISC-11 (12.7 m/s)","x":77.2,"y":14.9},{"s":"Test WISC-11 (12.7 m/s)","x":78.9,"y":15.5},{"s":"Test WISC-11 (12.7 m/s)","x":79.9,"y":17.0},{"s":"Test WISC-11 (12.7 m/s)","x":81.3,"y":18.6},{"s":"Test WISC-11 (12.7 m/s)","x":82.8,"y":20.6},{"s":"Test WISC-11 (12.7 m/s)","x":84.2,"y":21.5},{"s":"Test WISC-11 (12.7 m/s)","x":85.6,"y":21.5},{"s":"Test WISC-11 (12.7 m/s)","x":87.0,"y":20.7},{"s":"Test WISC-11 (12.7 m/s)","x":88.4,"y":19.1},{"s":"Test WISC-11 (12.7 m/s)","x":89.8,"y":17.0},{"s":"Test WISC-11 (12.7 m/s)","x":91.2,"y":15.3},{"s":"Test WISC-11 (12.7 m/s)","x":92.7,"y":13.7},{"s":"Test WISC-11 (12.7 m/s)","x":93.7,"y":13.2},{"s":"Test WISC-11 (12.7 m/s)","x":95.1,"y":13.5},{"s":"Test WISC-11 (12.7 m/s)","x":96.5,"y":14.0},{"s":"Test WISC-11 (12.7 m/s)","x":97.9,"y":14.8},{"s":"Test WISC-11 (12.7 m/s)","x":99.4,"y":15.2},{"s":"Test WISC-11 (12.7 m/s)","x":100.8,"y":14.9},{"s":"Test WISC-11 (12.7 m/s)","x":102.2,"y":13.5},{"s":"Test WISC-11 (12.7 m/s)","x":103.6,"y":11.4},{"s":"Test WISC-11 (12.7 m/s)","x":105.0,"y":8.6},{"s":"Test WISC-11 (12.7 m/s)","x":106.4,"y":5.8},{"s":"Test WISC-11 (12.7 m/s)","x":107.8,"y":3.6},{"s":"Test WISC-11 (12.7 m/s)","x":109.2,"y":2.7},{"s":"Test WISC-11 (12.7 m/s)","x":110.5,"y":2.3},{"s":"Test WISC-11 (12.7 m/s)","x":112.2,"y":2.6},{"s":"Test WISC-11 (12.7 m/s)","x":113.7,"y":2.8},{"s":"Test WISC-11 (12.7 m/s)","x":115.2,"y":3.1},{"s":"Test WISC-11 (12.7 m/s)","x":116.7,"y":2.8},{"s":"Test WISC-11 (12.7 m/s)","x":118.3,"y":2.1},{"s":"Test WISC-11 (12.7 m/s)","x":119.8,"y":1.2},{"s":"Test WISC-11 (12.7 m/s)","x":121.3,"y":1.1},{"s":"Test WISC-11 (12.7 m/s)","x":122.8,"y":1.6},{"s":"Test WISC-11 (12.7 m/s)","x":123.9,"y":2.8},{"s":"Test WISC-11 (12.7 m/s)","x":125.1,"y":4.9},{"s":"Test WISC-11 (12.7 m/s)","x":126.2,"y":7.9},{"s":"Test WISC-11 (12.7 m/s)","x":127.3,"y":12.5},{"s":"Test WISC-11 (12.7 m/s)","x":128.1,"y":14.0},{"s":"Test WISC-11 (12.7 m/s)","x":129.1,"y":17.4},{"s":"Test WISC-11 (12.7 m/s)","x":130.0,"y":19.6},{"s":"Test WISC-11 (12.7 m/s)","x":131.1,"y":20.6},{"s":"Test WISC-11 (12.7 m/s)","x":132.1,"y":20.6},{"s":"Test WISC-11 (12.7 m/s)","x":133.0,"y":19.9},{"s":"Test WISC-11 (12.7 m/s)","x":133.8,"y":18.4},{"s":"Test WISC-11 (12.7 m/s)","x":134.5,"y":16.3},{"s":"Test WISC-11 (12.7 m/s)","x":135.3,"y":14.0},{"s":"Test WISC-11 (12.7 m/s)","x":135.9,"y":11.8},{"s":"Test WISC-11 (12.7 m/s)","x":136.8,"y":8.4},{"s":"Test WISC-11 (12.7 m/s)","x":137.6,"y":5.9},{"s":"Test WISC-11 (12.7 m/s)","x":138.3,"y":3.4},{"s":"Test WISC-11 (12.7 m/s)","x":139.1,"y":1.3},{"s":"Test WISC-11 (12.7 m/s)","x":140.0,"y":0}
]
},
"data": {"name": "curves"},
"mark": {"type": "line", "strokeWidth": 2},
"encoding": {
"x": {"field": "x", "type": "quantitative",
 "scale": {"domain": [0, 160], "nice": false, "zero": false},
 "axis": {"title": "Deflection at Impact Height (cm)", "values": [0,20,40,60,80,100,120,140,160],
  "grid": true, "gridColor": "#000000", "gridWidth": 1, "domainColor": "#000000", "domainWidth": 1,
  "tickColor": "#000000", "tickSize": 8, "labelFontSize": 26, "labelColor": "#000000", "labelPadding": 17,
  "labelFlush": false, "labelOverlap": false,
  "titleFontSize": 33, "titleFontWeight": "bold", "titleColor": "#000000",
  "titleBaseline": "alphabetic", "titleY": 105}},
"y": {"field": "y", "type": "quantitative",
 "scale": {"domain": [0, 120], "nice": false, "zero": false},
 "axis": {"title": "Force at Impact Height (kN)", "values": [0,20,40,60,80,100,120],
  "grid": true, "gridColor": "#000000", "gridWidth": 1, "domainColor": "#000000", "domainWidth": 1,
  "tickColor": "#000000", "tickSize": 8, "labelFontSize": 26, "labelColor": "#000000", "labelPadding": 12,
  "labelFlush": false, "labelOverlap": false,
  "titleFontSize": 33, "titleFontWeight": "bold", "titleColor": "#000000",
  "titleAngle": 270, "titleBaseline": "alphabetic", "titleAlign": "center", "titleX": -88, "titleY": 401}},
"color": {"field": "s", "type": "nominal",
 "scale": {"domain": ["Test WISC-1 (4.6 m/s)","Test WISC-3 (5.4 m/s)","Test WISC-4 (5.9 m/s)","Test WISC-5 (8.9 m/s)","Test WISC-6 (8.9 m/s)","Test WISC-10 (14.1 m/s)","Test WISC-11 (12.7 m/s)"],
  "range": ["#FF0000","#0000FF","#008000","#FF00FF","#00FF00","#00CCFF","#CC99FF"]},
 "legend": {"title": " ", "titleOrient": "right", "titlePadding": 28, "titleFontSize": 27.5,
  "orient": "none", "legendX": 0, "legendY": 929, "direction": "horizontal", "columns": 4,
  "symbolType": "stroke", "symbolSize": 2500, "symbolStrokeWidth": 2, "symbolOffset": 8, "labelFontSize": 27.5, "labelColor": "#000000",
  "labelLimit": 0, "labelOffset": 4.3, "strokeColor": "#000000", "padding": 6, "clipHeight": 31, "rowPadding": 12.6, "columnPadding": 13.7,
  "gridAlign": "all"}}
}
}
